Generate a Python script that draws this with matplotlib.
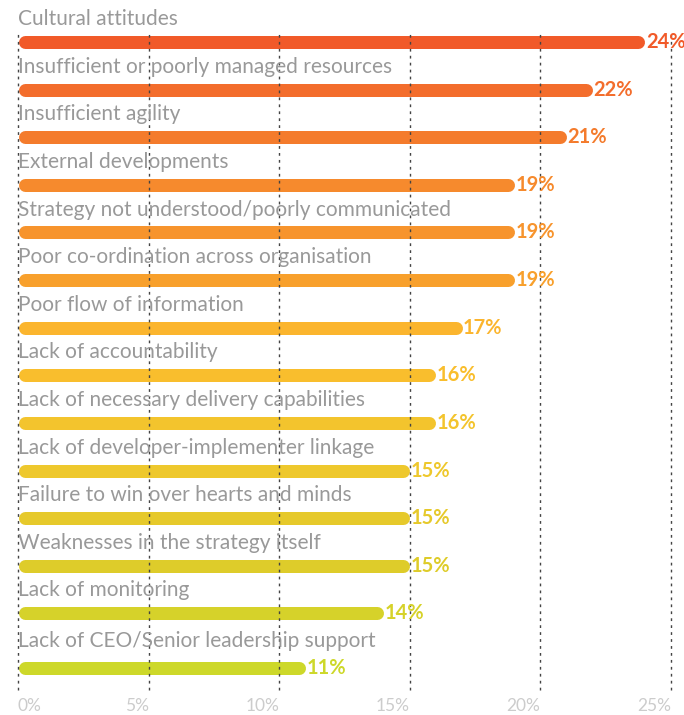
import numpy as np
import matplotlib
matplotlib.use("Agg")
import matplotlib.pyplot as plt

plt.rcParams['font.family'] = ['Lato', 'DejaVu Sans']

# data
labels = ["Cultural attitudes",
          "Insufficient or poorly managed resources",
          "Insufficient agility",
          "External developments",
          "Strategy not understood/poorly communicated",
          "Poor co-ordination across organisation",
          "Poor flow of information",
          "Lack of accountability",
          "Lack of necessary delivery capabilities",
          "Lack of developer-implementer linkage",
          "Failure to win over hearts and minds",
          "Weaknesses in the strategy itself",
          "Lack of monitoring",
          "Lack of CEO/Senior leadership support"]
values = [24, 22, 21, 19, 19, 19, 17, 16, 16, 15, 15, 15, 14, 11]
colors = ["#F15A29", "#F36D2C", "#F47B2C", "#F68A2D", "#F7942D", "#F8A02C",
          "#FBB52E", "#F9BE2D", "#F3C42D", "#EEC82D", "#E6C92B", "#DECC2A",
          "#D6D22A", "#CDD82A"]
ticks = [0, 5, 10, 15, 20, 25]
tick_labels = ["0%", "5%", "10%", "15%", "20%", "25%"]

W, H = 684, 715
fig = plt.figure(figsize=(W / 100, H / 100), dpi=100)
ax = fig.add_axes([18 / W, 25 / H, 653 / W, 657 / H])
ax.set_xlim(0, 25)
ax.set_ylim(13.61, -0.19)

rows = np.arange(len(values), dtype=float)
rows[-1] += 0.15

px_per_unit = 653 / 25
bar_px = 13
r = bar_px / 2 / px_per_unit

for y, v, c in zip(rows, values, colors):
    ax.plot([r, v - r], [y, y], color=c, lw=bar_px * 0.72,
            solid_capstyle="round", zorder=2)
    ax.text(v + 0.04, y, f"{v}%", color=c, fontsize=14.5, fontweight="bold",
            va="center", ha="left", clip_on=False, zorder=4)

for y, lab in zip(rows, labels):
    yl = y - 0.48 if y < 13 else y - 0.57
    ax.text(0, yl, lab, color="#999999", fontsize=15, va="center", ha="left",
            zorder=4)

for t in ticks:
    ax.axvline(t, color="#444444", lw=1, linestyle=(0, (2, 3)), zorder=3,
               clip_on=False)

ax.set_xticks(ticks)
ax.set_xticklabels(tick_labels, color="#cccccc", fontsize=12.5)
for i, tl in enumerate(ax.get_xticklabels()):
    tl.set_ha("left" if i == 0 else "right")
ax.tick_params(axis="x", length=0, pad=6)
ax.set_yticks([])
for s in ax.spines.values():
    s.set_visible(False)

fig.savefig("out.png", dpi=100)
